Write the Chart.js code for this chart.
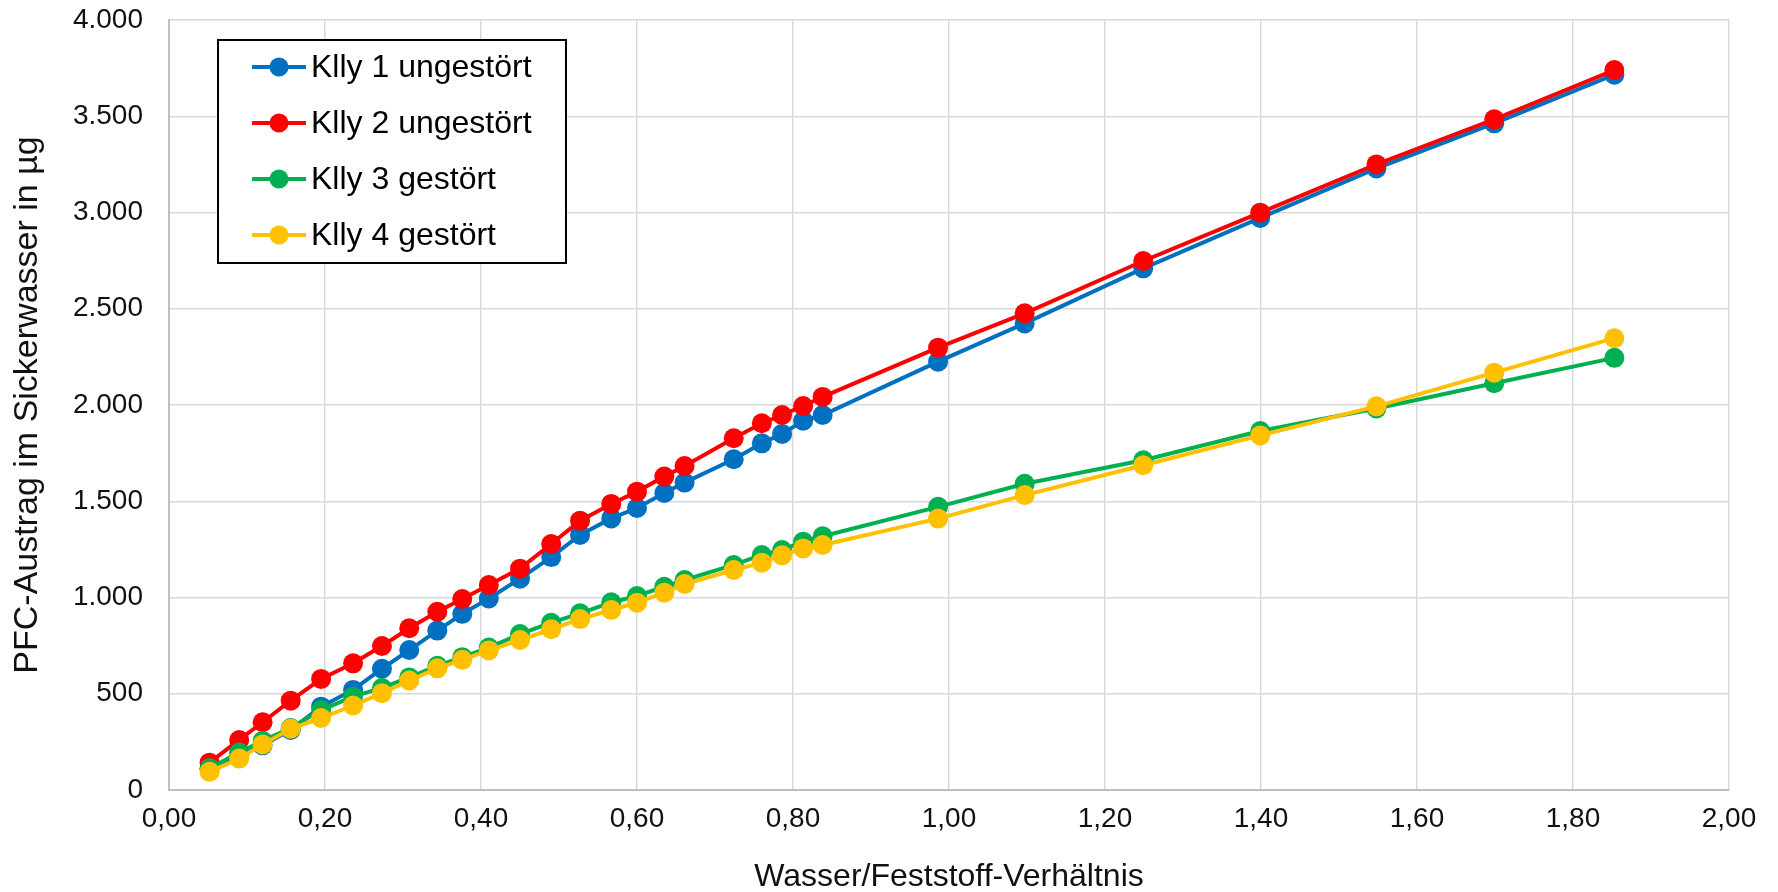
<!DOCTYPE html>
<html lang="de">
<head>
    <meta charset="UTF-8">
    <title>PFC-Austrag im Sickerwasser</title>
    <script src="https://cdn.jsdelivr.net/npm/chart.js"></script>
    <style>
        html, body {
            margin: 0;
            padding: 0;
            background: #fff;
        }
        #chart {
            display: block;
        }
    </style>
</head>
<body>
    <canvas id="chart" width="1778" height="892"></canvas>

    <script>
        // W/F-Verhältnis der Probenahmen (gemeinsam für alle Säulen)
        const wfRatio = [
            0.052, 0.090, 0.120, 0.156, 0.195, 0.236, 0.273, 0.308, 0.344, 0.376,
            0.410, 0.450, 0.490, 0.527, 0.567, 0.600, 0.635, 0.661, 0.724, 0.760,
            0.786, 0.813, 0.838, 0.986, 1.097, 1.249, 1.399, 1.548, 1.699, 1.853
        ];

        // kumulierter PFC-Austrag in µg
        const klly1 = [
            110, 178, 232, 312, 433, 520, 630, 727, 828, 915,
            995, 1098, 1210, 1325, 1411, 1465, 1543, 1597, 1718, 1801,
            1850, 1918, 1948, 2225, 2424, 2710, 2972, 3229, 3463, 3716
        ];
        const klly2 = [
            142, 260, 352, 464, 577, 658, 748, 840, 926, 992,
            1065, 1150, 1278, 1399, 1486, 1550, 1628, 1683, 1827, 1905,
            1948, 1995, 2042, 2298, 2476, 2748, 2999, 3250, 3484, 3740
        ];
        const klly3 = [
            113, 195, 255, 322, 415, 485, 530, 585, 645, 690,
            740, 810, 869, 918, 975, 1008, 1056, 1091, 1169, 1221,
            1247, 1290, 1318, 1471, 1591, 1713, 1865, 1982, 2113, 2245
        ];
        const klly4 = [
            95, 163, 237, 318, 374, 439, 503, 569, 632, 676,
            725, 779, 835, 888, 935, 973, 1025, 1070, 1143, 1181,
            1219, 1255, 1273, 1410, 1532, 1687, 1842, 1993, 2168, 2347
        ];

        const seriesNames = ['Klly 1 ungestört', 'Klly 2 ungestört', 'Klly 3 gestört', 'Klly 4 gestört'];
        const seriesColors = ['#0070C0', '#FF0000', '#00B050', '#FFC000'];
        const seriesValues = [klly1, klly2, klly3, klly4];

        const FONT = '"Liberation Sans", Arial, sans-serif';

        function toPoints(values) {
            return values.map((v, i) => ({ x: wfRatio[i], y: v }));
        }

        // Tausenderpunkt, z.B. 3.500
        function formatThousands(v) {
            return String(Math.round(v)).replace(/\B(?=(\d{3})+(?!\d))/g, '.');
        }

        // Legende als Kasten innerhalb der Zeichenfläche
        const boxLegend = {
            id: 'boxLegend',
            afterDraw(chart) {
                const ctx = chart.ctx;
                const area = chart.chartArea;
                const x0 = area.left + 49;
                const y0 = area.top + 20;
                const w = 348;
                const h = 223;

                ctx.save();
                ctx.fillStyle = '#fff';
                ctx.fillRect(x0, y0, w, h);
                ctx.strokeStyle = '#000';
                ctx.lineWidth = 2;
                ctx.strokeRect(x0, y0, w, h);

                ctx.font = '32px ' + FONT;
                ctx.textBaseline = 'middle';
                ctx.textAlign = 'left';

                chart.data.datasets.forEach((ds, i) => {
                    const cy = y0 + 27 + i * 56;
                    ctx.strokeStyle = ds.borderColor;
                    ctx.lineWidth = 4;
                    ctx.beginPath();
                    ctx.moveTo(x0 + 34, cy);
                    ctx.lineTo(x0 + 88, cy);
                    ctx.stroke();

                    ctx.fillStyle = ds.pointBackgroundColor;
                    ctx.beginPath();
                    ctx.arc(x0 + 61, cy, 9.5, 0, Math.PI * 2);
                    ctx.fill();

                    ctx.fillStyle = '#000';
                    ctx.fillText(ds.label, x0 + 93, cy + 1);
                });
                ctx.restore();
            }
        };

        const datasets = seriesValues.map((values, i) => ({
            label: seriesNames[i],
            data: toPoints(values),
            showLine: true,
            borderColor: seriesColors[i],
            backgroundColor: seriesColors[i],
            pointBackgroundColor: seriesColors[i],
            pointBorderColor: seriesColors[i],
            borderWidth: 4,
            pointRadius: 10,
            pointBorderWidth: 0,
            tension: 0,
            // später gezeichnete Reihen liegen oben
            order: seriesValues.length - i
        }));

        new Chart(document.getElementById('chart'), {
            type: 'scatter',
            data: { datasets: datasets },
            options: {
                responsive: false,
                animation: false,
                layout: {
                    padding: { top: 20, right: 49, bottom: 0, left: 0 }
                },
                plugins: {
                    legend: { display: false },
                    tooltip: { enabled: false }
                },
                scales: {
                    x: {
                        type: 'linear',
                        min: 0,
                        max: 2,
                        afterFit(scale) { scale.height = 102; },
                        ticks: {
                            stepSize: 0.2,
                            color: '#111',
                            padding: 12,
                            font: { family: FONT, size: 28 },
                            callback: v => v.toFixed(2).replace('.', ',')
                        },
                        grid: {
                            color: '#d9d9d9',
                            lineWidth: 1.5,
                            drawTicks: false
                        },
                        border: { color: '#bfbfbf', width: 2 },
                        title: {
                            display: true,
                            text: 'Wasser/Feststoff-Verhältnis',
                            color: '#111',
                            font: { family: FONT, size: 32, lineHeight: 0.9 },
                            padding: 0
                        }
                    },
                    y: {
                        min: 0,
                        max: 4000,
                        afterFit(scale) {
                            scale.width = 169;
                            // Abstand der Beschriftung nicht als Randabstand oben/unten werten
                            scale.paddingTop = 0;
                            scale.paddingBottom = 0;
                        },
                        ticks: {
                            stepSize: 500,
                            color: '#111',
                            padding: 26,
                            font: { family: FONT, size: 28 },
                            callback: v => formatThousands(v)
                        },
                        grid: {
                            color: '#d9d9d9',
                            lineWidth: 1.5,
                            drawTicks: false
                        },
                        border: { color: '#bfbfbf', width: 2 },
                        title: {
                            display: true,
                            text: 'PFC-Austrag im Sickerwasser in µg',
                            color: '#111',
                            font: { family: FONT, size: 34, lineHeight: 1.2 },
                            padding: { top: 7, bottom: 0 }
                        }
                    }
                }
            },
            plugins: [boxLegend]
        });
    </script>
</body>
</html>
